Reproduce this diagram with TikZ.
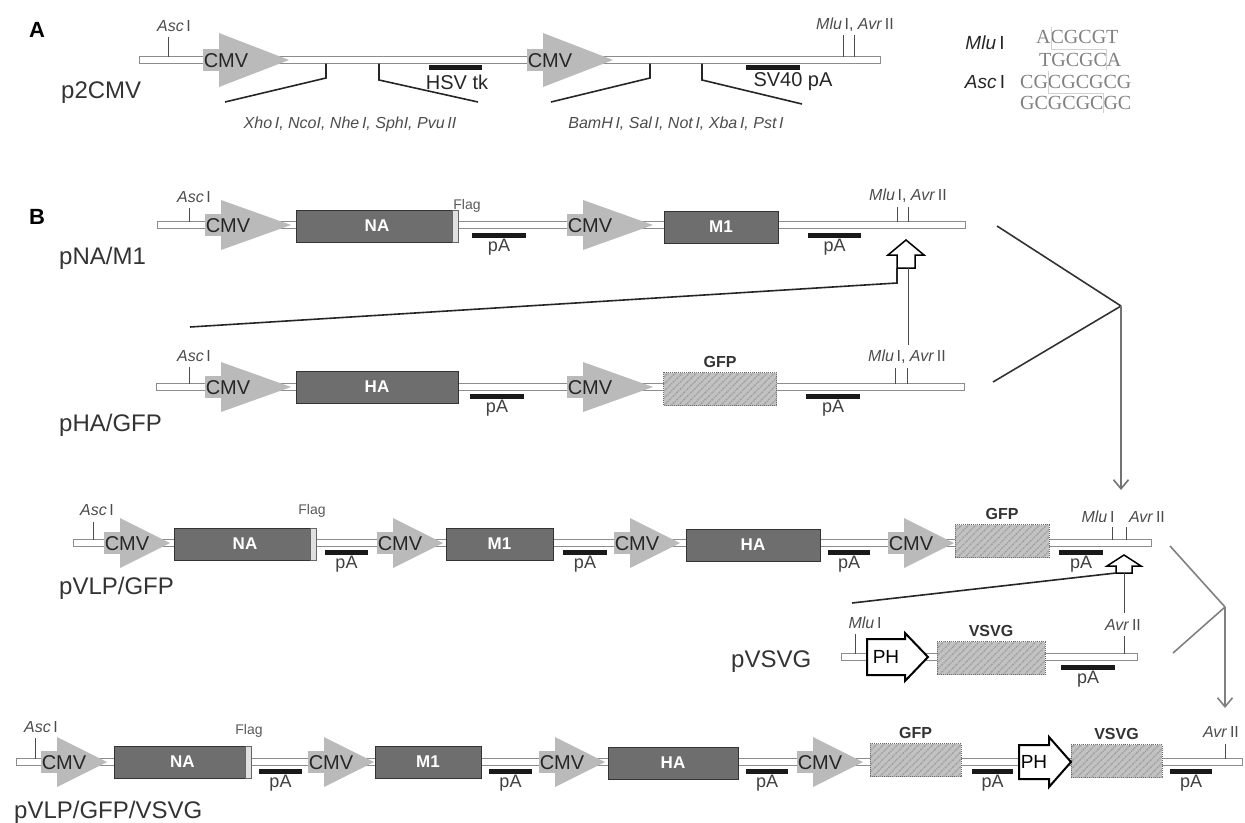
\documentclass[tikz,border=0pt]{standalone}
\usepackage{fontspec}
\setmainfont{Liberation Sans}
\newfontfamily\seqfont{Liberation Serif}
\usetikzlibrary{arrows.meta,positioning,patterns.meta}

\begin{document}
\begin{tikzpicture}[x=1pt,y=-1pt,
  panel/.style={font=\fontsize{22}{26}\selectfont\bfseries,inner sep=0pt},
  bb/.style={draw=black!45,fill=white,line width=1pt},
  prom/.style={fill=black!27},
  cmvtxt/.style={font=\fontsize{20}{24}\selectfont,text=black!85,inner sep=0pt},
  gene/.style={draw=black!80,fill=black!57,text=white,line width=1pt,inner sep=0pt,
               minimum height=32pt,font=\fontsize{17}{20}\selectfont\bfseries},
  hatch/.style={draw=black!60,densely dotted,line width=1pt,fill=black!24,inner sep=0pt,
               minimum height=33pt,
               postaction={pattern={Lines[angle=45,distance=5pt,line width=1.4pt]},pattern color=black!38}},
  glbl/.style={font=\fontsize{16}{19}\selectfont\bfseries,text=black!80,inner sep=0pt},
  flag/.style={fill=black!12,draw=black!60,line width=0.6pt,inner sep=0pt,
               minimum width=6pt,minimum height=32pt,anchor=east},
  flagtxt/.style={font=\fontsize{14}{17}\selectfont,text=black!65,inner sep=0pt},
  pabar/.style={fill=black!90,inner sep=0pt,minimum height=5pt},
  patxt/.style={font=\fontsize{18}{21}\selectfont,text=black!75,inner sep=0pt},
  enz/.style={font=\fontsize{16}{19}\selectfont,text=black!70,inner sep=0pt},
  tick/.style={draw=black!70,line width=0.9pt},
  plas/.style={font=\fontsize{24}{28}\selectfont,text=black!80,anchor=west,inner sep=0pt},
  ph/.style={draw=black,fill=white,line width=2pt,line join=miter},
  phtxt/.style={font=\fontsize{19}{22}\selectfont,inner sep=0pt},
  hollow/.style={draw=black,fill=white,line width=1.5pt,line join=miter},
  mcs/.style={draw=black!85,line width=1.6pt},
  link/.style={draw=black!85,line width=1.6pt},
  drop/.style={draw=black!70,line width=1pt},
  merge/.style={draw=black!80,line width=1.6pt},
  into/.style={draw=black!55,line width=1.6pt,-{Straight Barb[length=9pt,width=15pt]}},
  seq/.style={font=\seqfont\fontsize{20}{24}\selectfont,text=black!50,inner sep=0pt,anchor=west},
  cutm/.style={draw=black!18,line width=0.8pt}]
\useasboundingbox (0,0) rectangle (1245,822);

% panel letters
\node[panel] (lA) at (37,30) {A};
\node[panel] (lB) at (37,217) {B};

% backbones
\foreach \xa/\xb/\y in {139/880/60,157/965/225,156/964/387,73/1151/543,841/1137/657,16/1242/762}
  \draw[bb] (\xa,\y-3.5) rectangle (\xb,\y+3.5);

% CMV promoters
\foreach \n/\x/\y/\w/\h in {cmv-a1/219/60/70/27,cmv-a2/543/60/70/27,
    cmv-r1a/221/225/70/25,cmv-r1b/583/225/70/25,cmv-r2a/221/387/70/25,cmv-r2b/583/387/70/25,
    cmv-r3a/120/543/50/25,cmv-r3b/393/543/50/25,cmv-r3c/630/543/50/25,cmv-r3d/904/543/50/25,
    cmv-r5a/57/762/50/25,cmv-r5b/324/762/50/25,cmv-r5c/555/762/50/25,cmv-r5d/813/762/50/25}{
  \fill[prom] (\x-16,\y-11) rectangle (\x,\y+11);
  \fill[prom] (\x,\y-\h) -- (\x+\w,\y) -- (\x,\y+\h) -- cycle;
  \node[cmvtxt] (\n) at (\x+7,\y+1) {CMV};
}

% genes
\foreach \n/\x/\y/\w/\t in {na-r1/377/226/162/NA,m1-r1/721/227/114/M1,ha-r2/377/387/162/HA,
    na-r3/245/544/142/NA,m1-r3/499.5/544/107/M1,ha-r3/753/545/134/HA,
    na-r5/182.5/762/137/NA,m1-r5/428/762/106/M1,ha-r5/673/763/130/HA}
  \node[gene,minimum width=\w] (\n) at (\x,\y) {\t};
\node[flag] (fl-r1) at (na-r1.east) {};
\node[flag] (fl-r3) at (na-r3.east) {};
\node[flag] (fl-r5) at (na-r5.east) {};
\node[flagtxt] (flt-r1) at (467,206) {Flag};
\node[flagtxt] (flt-r3) at (312,511) {Flag};
\node[flagtxt] (flt-r5) at (249,731) {Flag};

\foreach \n/\x/\y/\w/\t in {gfp-r2/720/389/113/GFP,gfp-r3/1002/541/94/GFP,vsvg-r4/991/658/108/VSVG,
    gfp-r5/915.5/760/91/GFP,vsvg-r5/1116.5/761/91/VSVG}{
  \node[hatch,minimum width=\w] (\n) at (\x,\y) {};
  \node[glbl,above=4pt of \n] (\n-l) {\t};
}

% polyA
\foreach \n/\x/\y/\w in {pa-r1a/499/235/54,pa-r1b/834.5/235/53,pa-r2a/497/396/54,pa-r2b/833/396/54,
    pa-r3a/346.5/552/43,pa-r3b/585/552/44,pa-r3c/849/552/42,pa-r3d/1081/552/44,pa-r4/1088/667/54,
    pa-r5a/280.5/771/43,pa-r5b/510.5/771/43,pa-r5c/767/771/42,pa-r5d/992.5/771/41,pa-r5e/1191/771/42}{
  \node[pabar,minimum width=\w] (\n) at (\x,\y) {};
  \node[patxt,below=1.5pt of \n] (\n-t) {pA};
}

% PH promoters
\draw[ph] (867,639) -- (905,639) -- (905,633) -- (928,657) -- (905,681) -- (905,675) -- (867,675) -- cycle;
\node[phtxt] (ph-r4) at (886,657) {PH};
\draw[ph] (1019,745) -- (1049,745) -- (1049,737) -- (1071,762) -- (1049,787) -- (1049,779) -- (1019,779) -- cycle;
\node[phtxt] (ph-r5) at (1034,762) {PH};

% sites
\node[enz] (asc-a) at (174,26) {\textit{Asc}\,I};
\draw[tick] (168,37) -- (168,56.5);
\node[enz] (mlu-a) at (855,25) {\textit{Mlu}\,I, \textit{Avr}\,II};
\draw[tick] (843,35) -- (843,56.5) (854,35) -- (854,56.5);
\node[enz] (asc-r1) at (194,197) {\textit{Asc}\,I};
\draw[tick] (189,208) -- (189,221.5);
\node[enz] (mlu-r1) at (908,196) {\textit{Mlu}\,I, \textit{Avr}\,II};
\draw[tick] (897,207) -- (897,221.5) (908,207) -- (908,221.5);
\node[enz] (asc-r2) at (194,356) {\textit{Asc}\,I};
\draw[tick] (189,367) -- (189,383.5);
\node[enz] (mlu-r2) at (907,357) {\textit{Mlu}\,I, \textit{Avr}\,II};
\draw[tick] (895,368) -- (895,383.5) (907,368) -- (907,383.5);
\node[enz] (asc-r3) at (97,510) {\textit{Asc}\,I};
\draw[tick] (93,522) -- (93,539.5);
\node[enz] (mlu-r3) at (1098,517) {\textit{Mlu}\,I};
\node[enz] (avr-r3) at (1147,517) {\textit{Avr}\,II};
\draw[tick] (1112,527) -- (1112,539.5) (1126,527) -- (1126,539.5);
\node[enz] (mlu-r4) at (865,623) {\textit{Mlu}\,I};
\draw[tick] (855,634) -- (855,653.5);
\node[enz] (avr-r4) at (1123,625) {\textit{Avr}\,II};
\draw[tick] (1124,636) -- (1124,653.5);
\node[enz] (asc-r5) at (41,727) {\textit{Asc}\,I};
\draw[tick] (35,738) -- (35,758.5);
\node[enz] (avr-r5) at (1221,732) {\textit{Avr}\,II};
\draw[tick] (1225,744) -- (1225,758.5);

% plasmid names
\node[plas] (p2cmv) at (61,93) {p2CMV};
\node[plas] (pnam1) at (59,258) {pNA/M1};
\node[plas] (phagfp) at (59,425) {pHA/GFP};
\node[plas] (pvlpgfp) at (59,588) {pVLP/GFP};
\node[plas] (pvsvg) at (731,662) {pVSVG};
\node[plas] (pvlpall) at (14,812) {pVLP/GFP/VSVG};

% panel A: markers and cloning sites
\node[pabar,minimum width=53] (hsv) at (455.5,67) {};
\node[cmvtxt] (hsv-t) at (457,82) {HSV tk};
\node[pabar,minimum width=54] (sv40) at (773,67) {};
\node[cmvtxt] (sv40-t) at (793,82) {SV40 pA};
\draw[mcs] (326,63.5) -- (326,78) -- (225,102);
\draw[mcs] (379,63.5) -- (379,80) -- (478,102);
\draw[mcs] (650,63.5) -- (650,78) -- (551,102);
\draw[mcs] (702,63.5) -- (702,80) -- (802,104);
\node[enz] (mcs1) at (350,124) {\itshape Xho\,I, NcoI, Nhe\,I, SphI, Pvu\,II};
\node[enz] (mcs2) at (676,124) {\itshape BamH\,I, Sal\,I, Not\,I, Xba\,I, Pst\,I};

% overhangs
\node[enz,text=black!85,font=\fontsize{19}{22}\selectfont] (mlu-s) at (985,43) {\textit{Mlu}\,I};
\node[seq] (mlu-top) at (1036,37) {ACGCGT};
\node[seq] (mlu-bot) at (1039,60) {TGCGCA};
\node[enz,text=black!85,font=\fontsize{19}{22}\selectfont] (asc-s) at (985,82) {\textit{Asc}\,I};
\node[seq] (asc-top) at (1020,82) {CGCGCGCG};
\node[seq] (asc-bot) at (1020,103) {GCGCGCGC};
\draw[cutm] (1051,27) -- (1051,49) -- (1106,49) -- (1106,70);
\draw[cutm] (1048,71) -- (1048,93) -- (1103,93) -- (1103,113);

% inserts
\coordinate (ins1) at (906,240);
\draw[hollow] (ins1) ++(-9,28) -- ++(0,-13) -- ++(-9,0) -- (ins1) -- ++(18,15) -- ++(-9,0) -- ++(0,13) -- cycle;
\coordinate (ins1l) at (897,268);
\coordinate (ins1k) at (897,283);
\coordinate (ins1r) at (908,268);
\coordinate (frag1a) at (190,327);
\coordinate (frag1b) at (908,345);
\draw[link] (frag1a) -- (ins1k) -- (ins1l);
\draw[drop] (ins1r) -- (frag1b);

\coordinate (ins2) at (1124,555);
\draw[hollow] (ins2) ++(-8,18) -- ++(0,-7) -- ++(-9,0) -- (ins2) -- ++(17,11) -- ++(-9,0) -- ++(0,7) -- cycle;
\coordinate (ins2l) at (1116,573);
\coordinate (ins2r) at (1124,573);
\coordinate (frag2a) at (852,603);
\coordinate (frag2b) at (1124,613);
\draw[link] (frag2a) -- (ins2l);
\draw[drop] (ins2r) -- (frag2b);

% ligation brackets
\coordinate (b1a) at (997,226);
\coordinate (b1b) at (993,382);
\coordinate (b1m) at (1121,306);
\coordinate (b1e) at (1121,490);
\draw[merge] (b1a) -- (b1m);
\draw[merge] (b1b) -- (b1m);
\draw[into] (b1m) -- (b1e);
\coordinate (b2a) at (1170,546);
\coordinate (b2b) at (1173,653);
\coordinate (b2m) at (1225,607);
\coordinate (b2e) at (1225,708);
\draw[merge,draw=black!50] (b2a) -- (b2m);
\draw[merge,draw=black!50] (b2b) -- (b2m);
\draw[into,draw=black!50] (b2m) -- (b2e);
\end{tikzpicture}
\end{document}
